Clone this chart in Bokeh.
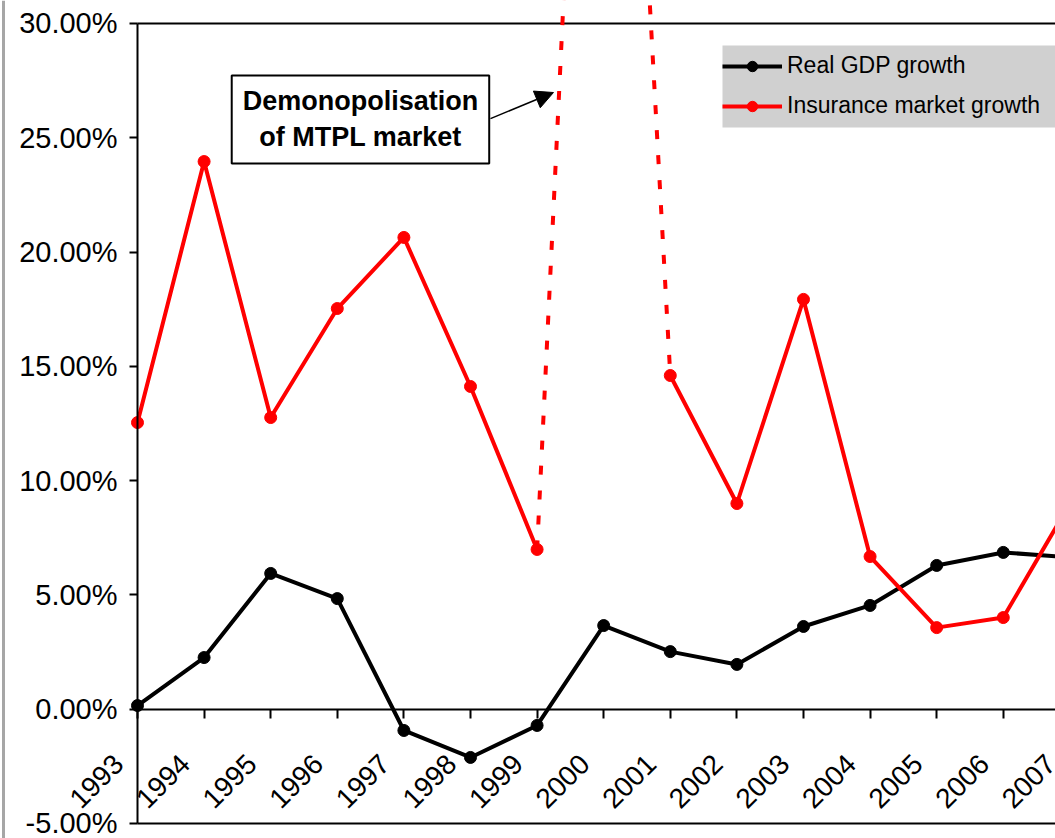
from math import pi

from bokeh.core.properties import value
from bokeh.embed import file_html
from bokeh.models import (Arrow, BoxAnnotation, ColumnDataSource, CustomLabelingPolicy,
                          FixedTicker, Label, LabelSet, Legend, LegendItem, NormalHead,
                          NumeralTickFormatter, Range1d, Span)
from bokeh.plotting import figure
from bokeh.resources import INLINE

# ---------------- data ----------------
years = [1993, 1994, 1995, 1996, 1997, 1998, 1999, 2000,
         2001, 2002, 2003, 2004, 2005, 2006, 2007]
year_labels = [str(y) for y in years]

gdp_growth = [0.0016, 0.0226, 0.0594, 0.0484, -0.0093, -0.0211, -0.0071, 0.0366,
              0.0252, 0.0196, 0.0362, 0.0454, 0.0629, 0.0686, 0.0664]

insurance_growth = [0.1254, 0.2396, 0.1276, 0.1753, 0.2064, 0.1412, 0.0699, 0.6750,
                    0.1460, 0.0900, 0.1793, 0.0668, 0.0357, 0.0401, 0.0900]

# year with the demonopolisation jump (drawn dotted)
jump_year = 2000

y_ticks = [-0.05, 0.0, 0.05, 0.10, 0.15, 0.20, 0.25, 0.30]
y_min, y_max = -0.05, 0.30

series_names = ["Real GDP growth", "Insurance market growth"]
annotation_text = "Demonopolisation\nof MTPL market"

# ---------------- derived sources ----------------
ins_solid = [v if y != jump_year else float("nan") for y, v in zip(years, insurance_growth)]
j = years.index(jump_year)
dot_years = years[j - 1:j + 2]
dot_vals = insurance_growth[j - 1:j + 2]
mark_years = [y for y in years if y != jump_year]
mark_vals = [v for y, v in zip(years, insurance_growth) if y != jump_year]

FONT = "Liberation Sans"

# plot frame fills the canvas; axes are placed at fixed locations inside it
X0, X1 = 1990.943, 2006.784
Y0, Y1 = -0.05656, 0.31006

p = figure(width=1055, height=838, output_backend="svg", toolbar_location=None,
           x_range=Range1d(X0, X1), y_range=Range1d(Y0, Y1),
           min_border_left=0, min_border_right=0, min_border_top=0,
           min_border_bottom=0, background_fill_color="white",
           border_fill_color="white")
p.outline_line_color = None
p.xgrid.visible = False
p.ygrid.visible = False

# grey chart-area border on the far left
p.add_layout(Span(location=X0 + 3 / 66.6, dimension="height",
                  line_color="#a6a6a6", line_width=3))

# x axis at y = 0
xa = p.xaxis[0]
xa.fixed_location = 0
xa.bounds = (years[0], X1)
xa.ticker = FixedTicker(ticks=years)
xa.major_tick_in = 0
xa.major_tick_out = 9
xa.major_tick_line_width = 2
xa.minor_tick_line_color = None
xa.axis_line_width = 2
xa.axis_line_color = "black"
xa.major_label_policy = CustomLabelingPolicy(code="""
for (const i of indices) { indices.unset(i) }
return indices
""")

# y axis at the first year
ya = p.yaxis[0]
ya.fixed_location = years[0]
ya.bounds = (y_min, y_max)
ya.ticker = FixedTicker(ticks=y_ticks)
ya.formatter = NumeralTickFormatter(format="0.00%")
ya.major_tick_in = 0
ya.major_tick_out = 8
ya.major_tick_line_width = 2
ya.minor_tick_line_color = None
ya.axis_line_width = 2
ya.major_label_standoff = 12
ya.major_label_text_font = FONT
ya.major_label_text_font_size = "29px"
ya.major_label_text_color = "black"

# plot-area top / bottom border lines
p.segment(x0=[years[0], years[0]], y0=[y_max, y_min], x1=[X1, X1], y1=[y_max, y_min],
          line_color="black", line_width=2)

# series
gdp_line = p.line(years, gdp_growth, line_color="black", line_width=4)
gdp_pts = p.scatter(years, gdp_growth, size=12, fill_color="black", line_color="black")

ins_line = p.line(years, ins_solid, line_color="red", line_width=4)
p.line(dot_years, dot_vals, line_color="red", line_width=4, line_dash="9 16")
ins_pts = p.scatter(mark_years, mark_vals, size=12, fill_color="red", line_color="red")

# x tick labels (rotated)
lab_src = ColumnDataSource(dict(x=years, y=[0.0] * len(years), text=year_labels))
p.add_layout(LabelSet(x="x", y="y", text="text", source=lab_src, angle=pi / 4,
                      text_align="right", text_baseline="middle",
                      x_offset=-19, y_offset=-50,
                      text_font=value(FONT), text_font_size=value("28px"),
                      text_color="black"))

# legend background panel (grey, runs off the right edge)
p.add_layout(BoxAnnotation(left=2001.784, right=X1 + 1, bottom=0.2545, top=0.2904,
                           fill_color="#d0d0d0", fill_alpha=1, line_color=None,
                           level="annotation"))

# legend
legend = Legend(items=[LegendItem(label=series_names[0], renderers=[gdp_line, gdp_pts]),
                       LegendItem(label=series_names[1], renderers=[ins_line, ins_pts])],
                location=(722, 719), background_fill_alpha=0,
                border_line_color=None, padding=8,
                spacing=13, glyph_height=26, glyph_width=60, label_height=26,
                label_standoff=5, label_text_font=FONT, label_text_font_size="23px",
                label_text_color="black", margin=0)
p.add_layout(legend)

# annotation box and arrow
p.add_layout(Label(x=1996.348, y=0.258, text=annotation_text, text_align="center",
                   text_baseline="middle", text_font=FONT, text_font_style="bold",
                   text_font_size="27px", text_color="black",
                   border_line_color="black", border_line_width=2,
                   background_fill_color="white", padding=11))
p.add_layout(Arrow(end=NormalHead(size=18, fill_color="black", line_color="black"),
                   x_start=1998.30, y_start=0.2584, x_end=1999.246, y_end=0.2698,
                   line_width=1.5, line_color="black"))

open("out.html", "w").write(file_html(p, INLINE))
